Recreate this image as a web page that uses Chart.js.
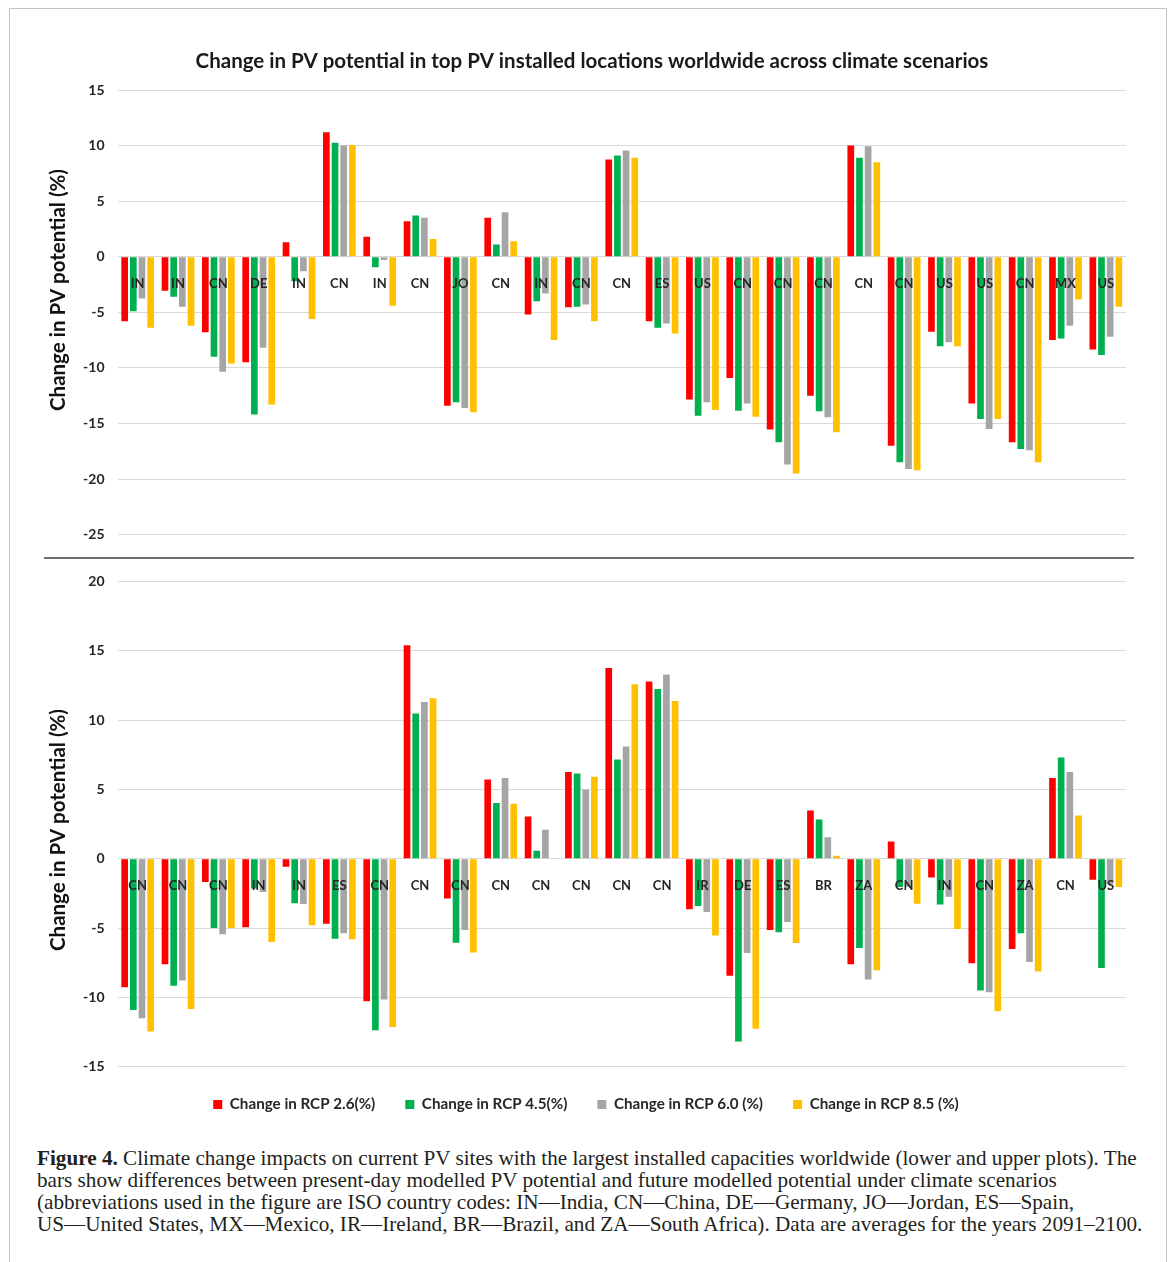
<!DOCTYPE html>
<html><head><meta charset="utf-8">
<script src="https://cdn.jsdelivr.net/npm/chart.js@4.4.1/dist/chart.umd.min.js"></script>
<style>
html,body{margin:0;padding:0;background:#fff;width:1170px;height:1262px;overflow:hidden;}
#frame{position:absolute;left:9px;top:8px;width:1158px;height:1300px;border:1px solid #c4c4c4;box-sizing:border-box;}
.wrap{position:absolute;left:0;width:1170px;}
#w1{top:0;height:556px;}
#w2{top:560px;height:570px;}
#sep{position:absolute;left:44px;top:557px;width:1090px;height:2px;background:#6e6e6e;}
#caption{position:absolute;left:37px;top:1147px;font-family:"Liberation Serif",serif;font-size:18px;line-height:22px;color:#231f20;white-space:nowrap;}
#caption b{font-weight:bold;}
</style></head>
<body>
<div id="frame"></div>
<div class="wrap" id="w1"><canvas id="c1" width="1170" height="556"></canvas></div>
<div id="sep"></div>
<div class="wrap" id="w2"><canvas id="c2" width="1170" height="570"></canvas></div>
<div id="caption">
<div id="cl1"><b>Figure 4.</b> Climate change impacts on current PV sites with the largest installed capacities worldwide (lower and upper plots). The</div>
<div>bars show differences between present-day modelled PV potential and future modelled potential under climate scenarios</div>
<div>(abbreviations used in the figure are ISO country codes: IN—India, CN—China, DE—Germany, JO—Jordan, ES—Spain,</div>
<div>US—United States, MX—Mexico, IR—Ireland, BR—Brazil, and ZA—South Africa). Data are averages for the years 2091–2100.</div>
</div>
<script>
// ---------- DATA ----------
const seriesNames = ['Change in RCP 2.6(%)','Change in RCP 4.5(%)','Change in RCP 6.0 (%)','Change in RCP 8.5 (%)'];
const seriesColors = ['#FF0000','#00B050','#A5A5A5','#FFC000'];

const topLabels = ['IN','IN','CN','DE','IN','CN','IN','CN','JO','CN','IN','CN','CN','ES','US','CN','CN','CN','CN','CN','US','US','CN','MX','US'];
const topRCP26 = [-5.8,-3.05,-6.8,-9.5,1.3,11.2,1.8,3.2,-13.4,3.5,-5.2,-4.55,8.75,-5.8,-12.85,-10.9,-15.55,-12.5,10.0,-17.0,-6.75,-13.2,-16.7,-7.5,-8.35];
const topRCP45 = [-4.9,-3.6,-9.0,-14.2,-2.2,10.25,-0.95,3.7,-13.1,1.1,-4.0,-4.5,9.1,-6.4,-14.3,-13.85,-16.7,-13.9,8.9,-18.5,-8.05,-14.6,-17.3,-7.35,-8.85];
const topRCP60 = [-3.75,-4.5,-10.35,-8.2,-1.3,10.0,-0.3,3.5,-13.6,4.0,-3.3,-4.3,9.55,-6.0,-13.1,-13.2,-18.7,-14.45,9.95,-19.1,-7.7,-15.5,-17.4,-6.2,-7.2];
const topRCP85 = [-6.4,-6.2,-9.6,-13.3,-5.6,10.05,-4.4,1.6,-14.0,1.4,-7.5,-5.8,8.9,-6.9,-13.8,-14.4,-19.5,-15.8,8.5,-19.2,-8.05,-14.6,-18.5,-3.85,-4.5];
const topTicks = {min:-25, max:15, step:5};

const botLabels = ['CN','CN','CN','IN','IN','ES','CN','CN','CN','CN','CN','CN','CN','CN','IR','DE','ES','BR','ZA','CN','IN','CN','ZA','CN','US'];
const botRCP26 = [-9.27,-7.6,-1.68,-4.94,-0.57,-4.68,-10.28,15.4,-2.86,5.72,3.05,6.26,13.76,12.79,-3.64,-8.44,-5.13,3.48,-7.6,1.25,-1.35,-7.54,-6.5,5.82,-1.51];
const botRCP45 = [-10.9,-9.15,-5.0,-2.15,-3.2,-5.77,-12.36,10.47,-6.05,4.02,0.57,6.15,7.16,12.25,-3.4,-13.17,-5.3,2.84,-6.43,-2.03,-3.3,-9.5,-5.37,7.3,-7.87];
const botRCP60 = [-11.5,-8.77,-5.44,-2.4,-3.26,-5.37,-10.14,11.3,-5.13,5.82,2.1,4.99,8.1,13.29,-3.83,-6.8,-4.56,1.56,-8.7,-2.03,-2.74,-9.62,-7.45,6.26,-1.82];
const botRCP85 = [-12.46,-10.83,-5.0,-6.0,-4.8,-5.8,-12.13,11.58,-6.76,3.97,0,5.91,12.58,11.37,-5.53,-12.25,-6.08,0.21,-8.04,-3.24,-5.06,-11.0,-8.13,3.12,-2.03];
const botTicks = {min:-15, max:20, step:5};

const chartTitle = 'Change in PV potential in top PV installed locations worldwide across climate scenarios';
const yTitle = 'Change in PV potential (%)';

// ---------- CHART ----------
Chart.defaults.font.family = 'Lato, "Open Sans", sans-serif';
Chart.defaults.color = '#333';

const yTitlePlugin = {
  id: 'yTitle',
  afterDraw(chart, args, opts) {
    const ctx = chart.ctx;
    ctx.save();
    ctx.font = 'bold ' + opts.size + 'px Lato, sans-serif';
    ctx.fillStyle = opts.color;
    ctx.textAlign = 'center';
    ctx.textBaseline = 'middle';
    ctx.translate(opts.x, opts.y);
    ctx.rotate(-Math.PI / 2);
    ctx.fillText(opts.text, 0, 0);
    ctx.restore();
  }
};

function makeDatasets(arrs) {
  return arrs.map((d, i) => ({
    label: seriesNames[i],
    data: d,
    backgroundColor: seriesColors[i],
    borderWidth: 0,
    categoryPercentage: 0.86,
    barPercentage: 0.77
  }));
}

function makeChart(id, labels, arrs, ticks, opt) {
  return new Chart(document.getElementById(id), {
    type: 'bar',
    data: { labels: labels, datasets: makeDatasets(arrs) },
    plugins: [yTitlePlugin],
    options: {
      responsive: false,
      animation: false,
      layout: { padding: opt.padding },
      scales: {
        x: {
          position: { y: 0 },
          grid: { display: false },
          border: { display: false },
          ticks: { z: 1, padding: 11, maxRotation: 0, autoSkip: false,
                   font: { size: 13, weight: 'bold' }, color: '#262626' }
        },
        y: {
          min: ticks.min, max: ticks.max,
          grid: { color: '#D9D9D9', lineWidth: 1, drawTicks: false },
          border: { display: false },
          ticks: { stepSize: ticks.step, padding: 13, font: { size: 14, weight: 'bold' }, color: '#262626' },
          afterFit: (s) => { s.width = opt.yWidth; }
        }
      },
      plugins: {
        title: opt.title,
        legend: opt.legend,
        tooltip: { enabled: false },
        yTitle: { text: yTitle, x: 58, y: opt.yTitleY, size: 20.5, color: '#111' }
      }
    }
  });
}

makeChart('c1', topLabels, [topRCP26, topRCP45, topRCP60, topRCP85], topTicks, {
  padding: { top: 0, left: 58, right: 44, bottom: 13 },
  yWidth: 59.5,
  yTitleY: 290,
  title: { display: true, text: chartTitle, color: '#1a1a1a',
           font: { size: 20.5, weight: 'bold' }, padding: { top: 48.7, bottom: 16.7 } },
  legend: { display: false }
});

makeChart('c2', botLabels, [botRCP26, botRCP45, botRCP60, botRCP85], botTicks, {
  padding: { top: 13, left: 46, right: 44, bottom: 8 },
  yWidth: 71.5,
  yTitleY: 270,
  title: { display: false },
  legend: { display: true, position: 'bottom',
            labels: { boxWidth: 9, boxHeight: 9, padding: 30, color: '#262626',
                      font: { size: 15.2, weight: 'bold' } } }
});

// caption width fit to reference line length
(function () {
  const cap = document.getElementById('caption');
  const l1 = document.getElementById('cl1');
  const span = document.createElement('span');
  span.innerHTML = l1.innerHTML;
  span.style.whiteSpace = 'nowrap';
  l1.innerHTML = '';
  l1.appendChild(span);
  const sw = span.getBoundingClientRect().width;
  const fs = 18 * 1100 / sw;
  cap.style.fontSize = fs.toFixed(2) + 'px';
})();
</script>
</body></html>
